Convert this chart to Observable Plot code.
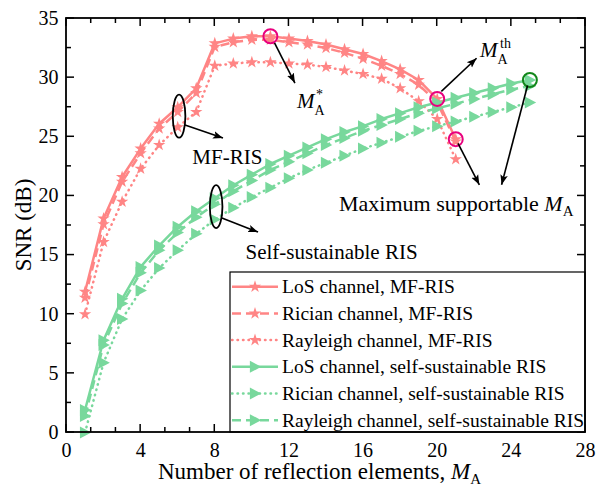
<!DOCTYPE html>
<html><head><meta charset="utf-8">
<script src="https://cdn.jsdelivr.net/npm/d3@7"></script>
<script src="https://cdn.jsdelivr.net/npm/@observablehq/plot@0.6"></script>
<style>body{margin:0;background:#fff}svg{display:block}</style>
</head><body><div id="chart"></div>
<script>
// ---- data ----
const mMF = [1,2,3,4,5,6,7,8,9,10,11,12,13,14,15,16,17,18,19,20,21];
const snrMfLos      = [11.9,18.1,21.6,24.0,26.1,27.5,29.1,32.9,33.3,33.5,33.5,33.3,33.1,32.8,32.4,32.0,31.4,30.7,29.8,28.2,24.8];
const snrMfRician   = [11.4,17.6,21.2,23.6,25.7,27.1,28.7,32.6,33.0,33.2,33.2,33.0,32.8,32.5,32.1,31.6,31.0,30.3,29.4,27.9,24.6];
const snrMfRayleigh = [10.0,16.1,19.5,22.3,24.3,25.8,27.1,31.0,31.2,31.3,31.3,31.2,31.1,30.9,30.6,30.3,29.9,29.1,28.0,26.5,23.1];
const mSS = [1,2,3,4,5,6,7,8,9,10,11,12,13,14,15,16,17,18,19,20,21,22,23,24,25];
const snrSsLos      = [1.9,7.8,11.3,14.0,15.8,17.4,18.7,19.8,20.9,21.8,22.7,23.4,24.1,24.8,25.4,25.9,26.5,27.0,27.5,27.9,28.3,28.7,29.1,29.5,29.8];
const snrSsRician   = [0.0,5.9,9.6,12.0,13.9,15.4,16.8,18.0,19.0,19.9,20.7,21.5,22.2,22.8,23.4,24.0,24.5,25.0,25.5,25.9,26.3,26.7,27.1,27.5,27.9];
const snrSsRayleigh = [1.4,7.4,10.9,13.5,15.4,16.9,18.2,19.3,20.4,21.3,22.2,22.9,23.6,24.3,24.9,25.5,26.0,26.5,27.0,27.4,27.8,28.2,28.6,29.0,29.3];
const seriesNames = ["LoS channel, MF-RIS","Rician channel, MF-RIS","Rayleigh channel, MF-RIS",
  "LoS channel, self-sustainable RIS","Rician channel, self-sustainable RIS","Rayleigh channel, self-sustainable RIS"];
const xTickLabels = [0,4,8,12,16,20,24,28];
const yTickLabels = [0,5,10,15,20,25,30,35];
// highlighted points
const pinkMarks = [{m:11, snr:33.5},{m:20, snr:28.2},{m:21, snr:24.8}];
const greenMarks = [{m:25, snr:29.8}];
// annotation arrows [x1,y1,x2,y2] in data units
const arrows = [[11.25,32.9,12.35,29.5],[20.25,28.8,22.15,31.6],[21.15,24.4,22.3,20.9],[24.9,29.3,23.5,20.9],[6.42,25.95,8.47,24.85],[8.41,18.09,10.36,16.9]];
const ellipses = [{m:6.1, snr:26.7},{m:8.1, snr:19.05}];
const labels = [{m:8.68, snr:23.3, text:"MF-RIS"},{m:14.3, snr:15.2, text:"Self-sustainable RIS"}];

// ---- styles ----
const PINK = "#ff8585", GREEN = "#78d89c";
const styles = [
  {stroke:PINK, dash:null, cap:"butt", sym:"star"},
  {stroke:PINK, dash:"9,5", cap:"butt", sym:"star"},
  {stroke:PINK, dash:"0.5,5", cap:"round", sym:"star"},
  {stroke:GREEN, dash:null, cap:"butt", sym:"tri"},
  {stroke:GREEN, dash:"0.5,5", cap:"round", sym:"tri"},
  {stroke:GREEN, dash:"9,5", cap:"butt", sym:"tri"}
];
const triRight = {draw(ctx, size){ const r = Math.sqrt(size/Math.PI); ctx.moveTo(r*1.05,0); ctx.lineTo(-r*0.85,-r); ctx.lineTo(-r*0.85,r); ctx.closePath(); }};
const seriesVals = [[mMF,snrMfLos],[mMF,snrMfRician],[mMF,snrMfRayleigh],[mSS,snrSsLos],[mSS,snrSsRician],[mSS,snrSsRayleigh]];
const tables = seriesVals.map(([ms,vs],i)=>ms.map((m,j)=>({m, snr:vs[j], series:seriesNames[i]})));

const FONT = "Liberation Serif, Times New Roman, serif";
const marks = [];
tables.forEach((t,i)=>{
  const s = styles[i];
  marks.push(Plot.line(t,{x:"m",y:"snr",stroke:s.stroke,strokeWidth:2.5,strokeDasharray:s.dash,strokeLinecap:s.cap}));
});
tables.forEach((t,i)=>{
  const s = styles[i];
  marks.push(Plot.dot(t,{x:"m",y:"snr",fill:s.stroke,stroke:null,symbol:s.sym==="star"?"star":triRight,r:s.sym==="star"?3.9:6}));
});
marks.push(Plot.dot(pinkMarks,{x:"m",y:"snr",r:7,stroke:"#e8007e",strokeWidth:2,fill:"none"}));
marks.push(Plot.dot(greenMarks,{x:"m",y:"snr",r:7,stroke:"#12871a",strokeWidth:2,fill:"none"}));
marks.push(Plot.text(labels,{x:"m",y:"snr",text:"text",fontSize:21,fill:"black"}));
marks.push(Plot.axisX({ticks:xTickLabels,tickSize:0,tickPadding:10,label:null,fontSize:20}));
marks.push(Plot.axisY({ticks:yTickLabels,tickSize:0,tickPadding:8,label:null,fontSize:20}));

const svg = Plot.plot({
  width:604, height:491, marginLeft:66, marginRight:19, marginTop:18, marginBottom:59,
  style:{fontFamily:FONT, fontSize:"20px", background:"#fff", color:"black"},
  x:{domain:[0,28], axis:null},
  y:{domain:[0,35], axis:null},
  marks
});
const sx = svg.scale("x"), sy = svg.scale("y");
const X = v => sx.apply(v), Y = v => sy.apply(v);
const root = d3.select(svg);
const L = X(0), R = X(28), T = Y(35), B = Y(0);
const g = root.append("g").attr("text-anchor","start");

// arrow marker
const defs = root.append("defs");
defs.append("marker").attr("id","ah").attr("viewBox","0 0 10 10").attr("refX",10).attr("refY",5)
  .attr("markerWidth",10).attr("markerHeight",10).attr("markerUnits","userSpaceOnUse").attr("orient","auto")
  .append("path").attr("d","M0,1.2 L10,5 L0,8.8 L2.2,5 Z").attr("fill","black");
arrows.forEach(a=>{
  g.append("line").attr("x1",X(a[0])).attr("y1",Y(a[1])).attr("x2",X(a[2])).attr("y2",Y(a[3]))
   .attr("stroke","black").attr("stroke-width",1.6).attr("marker-end","url(#ah)");
});
ellipses.forEach(e=>{
  g.append("ellipse").attr("cx",X(e.m)).attr("cy",Y(e.snr)).attr("rx",6.3).attr("ry",21.5)
   .attr("fill","none").attr("stroke","black").attr("stroke-width",1.8);
});
function mathText(x,y,size,parts){
  const t = g.append("text").attr("x",x).attr("y",y).attr("font-size",size).attr("font-family",FONT).attr("fill","black").attr("text-anchor","start");
  parts.forEach(p=>{ const ts=t.append("tspan").text(p.t); if(p.i) ts.attr("font-style","italic"); if(p.s) ts.attr("font-size",p.s); if(p.dy) ts.attr("dy",p.dy); });
  return t;
}
// M_A^*
mathText(297,108,21,[{t:"M",i:1}]);
mathText(314.5,114.5,14,[{t:"A"}]);
mathText(316,98.5,14,[{t:"*"}]);
// M_A^th
mathText(480,57,21,[{t:"M",i:1}]);
mathText(497.5,63.5,14,[{t:"A"}]);
mathText(500,47.5,14,[{t:"th"}]);
// Maximum supportable M_A
mathText(339,211,22,[{t:"Maximum supportable "},{t:"M",i:1},{t:"A",s:15,dy:5}]);
// axis titles
mathText((L+R)/2-6,479,23,[{t:"Number of reflection elements, "},{t:"M",i:1},{t:"A",s:15,dy:5}]).attr("text-anchor","middle");
g.append("text").attr("transform",`translate(31,${(T+B)/2}) rotate(-90)`).attr("text-anchor","middle")
  .attr("font-size",23).attr("font-family",FONT).text("SNR (dB)");

// ticks (inward, all four sides)
const xt = d3.range(0,28.001,4/3), yt = d3.range(0,35.001,2.5);
xt.forEach((v,i)=>{ const len = i%3===0?8:5; const x=X(v);
  g.append("line").attr("x1",x).attr("x2",x).attr("y1",B).attr("y2",B-len).attr("stroke","black").attr("stroke-width",1.5);
  g.append("line").attr("x1",x).attr("x2",x).attr("y1",T).attr("y2",T+len).attr("stroke","black").attr("stroke-width",1.5);
});
yt.forEach((v,i)=>{ const len = i%2===0?8:5; const y=Y(v);
  g.append("line").attr("x1",L).attr("x2",L+len).attr("y1",y).attr("y2",y).attr("stroke","black").attr("stroke-width",1.5);
  g.append("line").attr("x1",R).attr("x2",R-len).attr("y1",y).attr("y2",y).attr("stroke","black").attr("stroke-width",1.5);
});

// legend
const lg = g.append("g");
const lx0 = 230, ly0 = 272;
lg.append("rect").attr("x",lx0).attr("y",ly0).attr("width",R-lx0).attr("height",B-ly0).attr("fill","white").attr("stroke","black").attr("stroke-width",1.2);
const starPath = d3.symbol(d3.symbolStar, 3.9*3.9*Math.PI)();
const triPath = d3.symbol(triRight, 36*Math.PI)();
seriesNames.forEach((name,i)=>{
  const s = styles[i], y = ly0 + 14.7 + i*26.7;
  lg.append("line").attr("x1",lx0+2).attr("x2",lx0+48).attr("y1",y).attr("y2",y).attr("stroke",s.stroke)
    .attr("stroke-width",2.5).attr("stroke-dasharray",s.dash).attr("stroke-linecap",s.cap);
  lg.append("path").attr("d",s.sym==="star"?starPath:triPath).attr("transform",`translate(${lx0+25},${y})`).attr("fill",s.stroke);
  lg.append("text").attr("x",lx0+52).attr("y",y+6.5).attr("font-size",19.5).attr("font-family",FONT).attr("text-anchor","start").text(name);
});
// frame
g.append("rect").attr("x",L).attr("y",T).attr("width",R-L).attr("height",B-T).attr("fill","none").attr("stroke","black").attr("stroke-width",1.8);

document.getElementById("chart").appendChild(svg);
</script></body></html>
